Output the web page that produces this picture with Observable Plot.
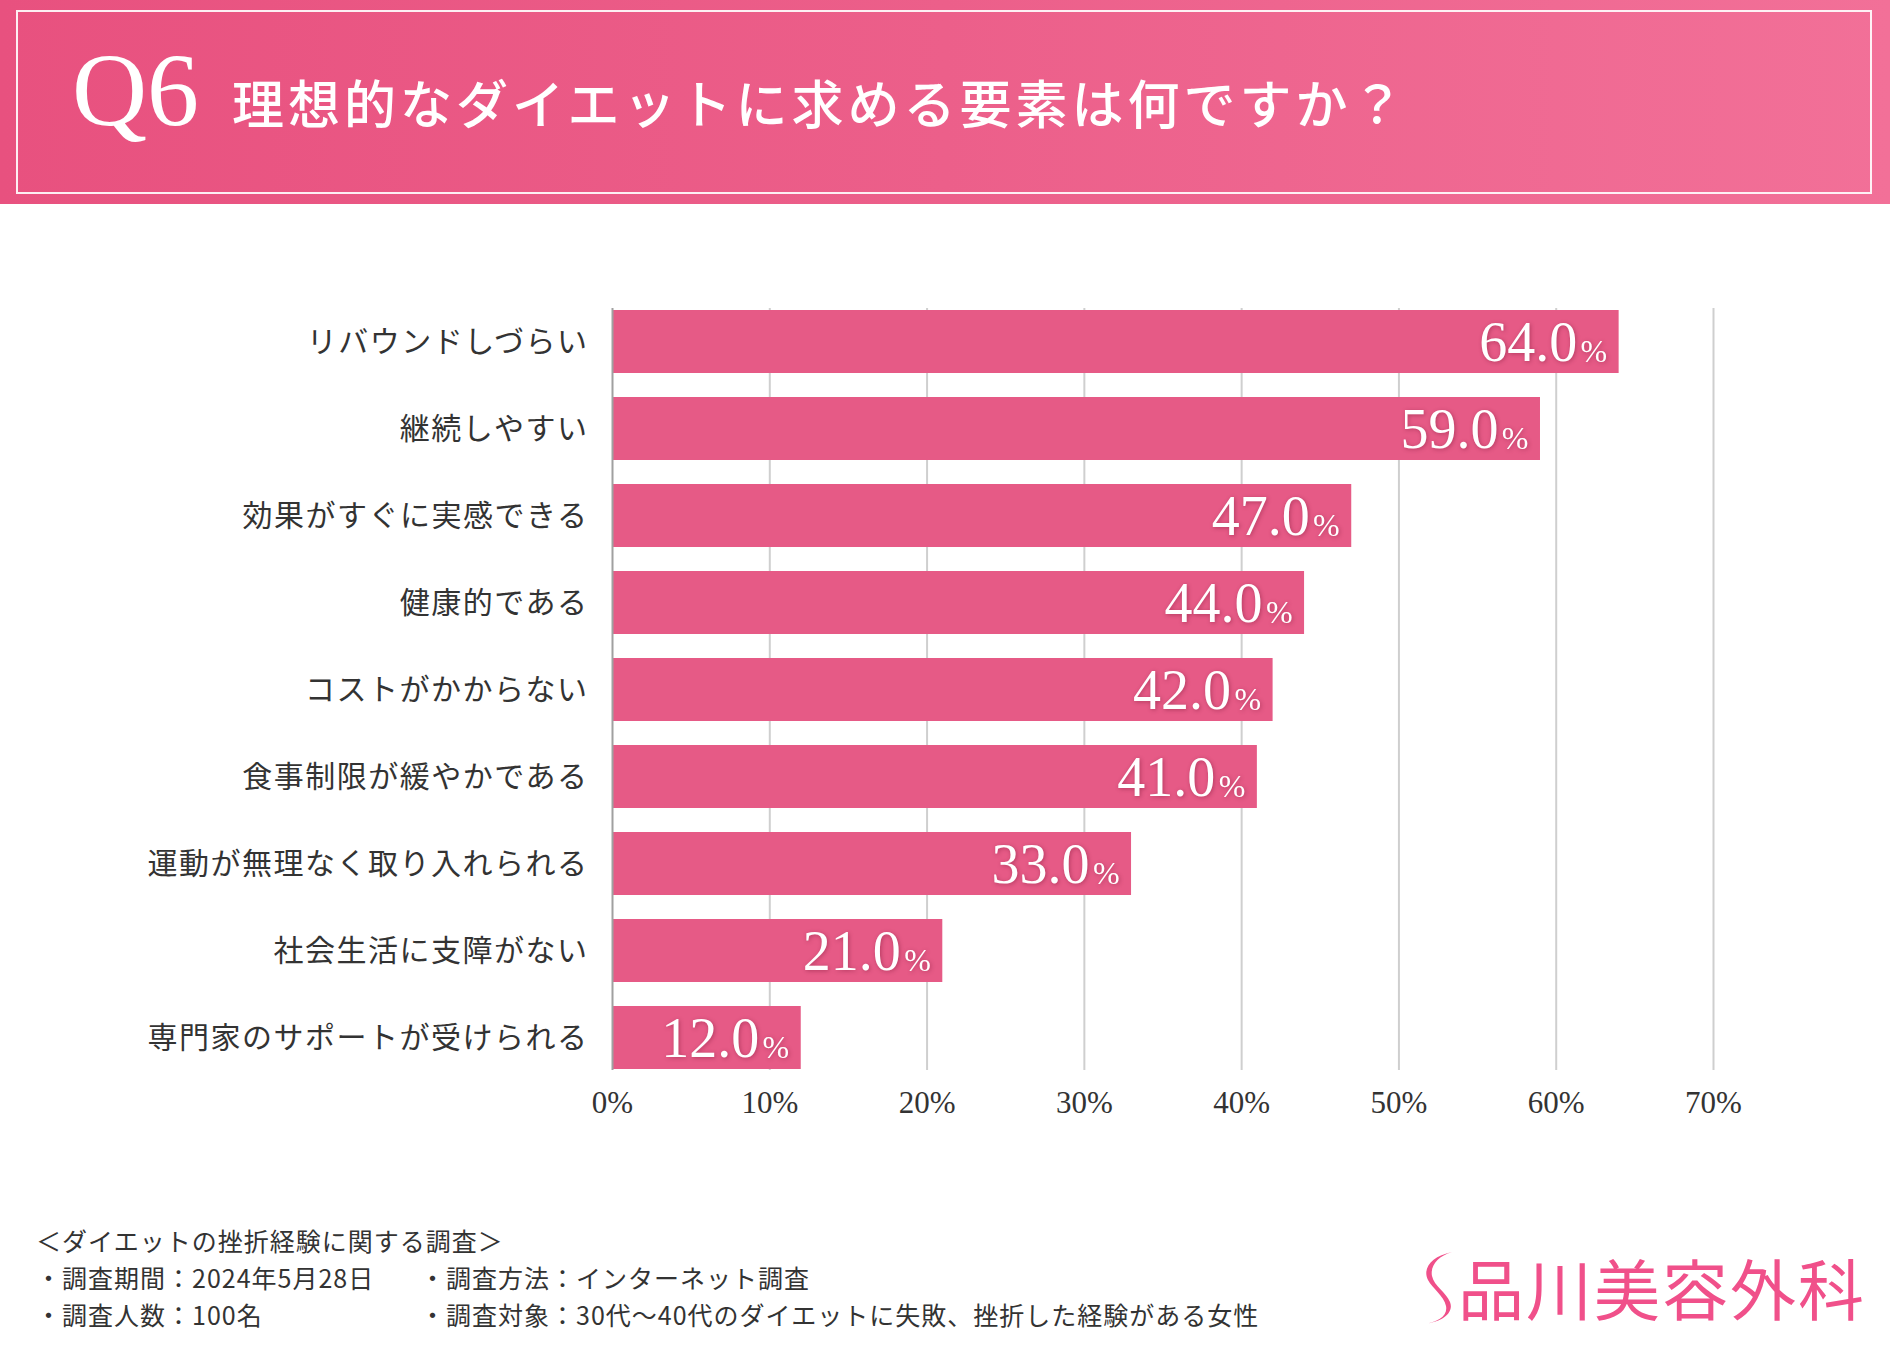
<!DOCTYPE html>
<html><head><meta charset="utf-8">
<script src="https://cdn.jsdelivr.net/npm/d3@7"></script>
<script src="https://cdn.jsdelivr.net/npm/@observablehq/plot@0.6"></script>
<style>
html,body{margin:0;padding:0;background:#fff;}
body{width:1890px;height:1350px;position:relative;overflow:hidden;font-family:"Noto Sans CJK JP",sans-serif;}
#header{position:absolute;left:0;top:0;width:1890px;height:204px;background:linear-gradient(90deg,#e8517f 0%,#ec5f8a 50%,#f27098 100%);}
#frame{position:absolute;left:16px;top:10px;width:1856px;height:184px;border:2px solid rgba(255,255,255,0.9);box-sizing:border-box;}
#q{position:absolute;left:72px;top:38px;font-family:"Liberation Serif",serif;font-size:104px;line-height:104px;color:#fff;}
#title{position:absolute;left:232px;top:70px;font-size:52px;line-height:64px;color:#fff;font-weight:500;letter-spacing:4px;white-space:nowrap;}
#chart{position:absolute;left:0;top:202px;}
#foot{position:absolute;left:36px;top:1222px;font-size:25px;line-height:37px;color:#333;letter-spacing:1px;}
#foot div{position:relative;height:37px;white-space:nowrap;}
#foot .c2{position:absolute;left:384px;top:0;white-space:nowrap;}
#logo{position:absolute;left:1418px;top:1245px;height:82px;display:flex;align-items:center;}
#logo span{font-size:66px;color:#f0508a;letter-spacing:2px;line-height:82px;white-space:nowrap;}
g[fill="white"] text{filter:drop-shadow(1px 1px 2px rgba(120,20,50,0.45));}
g[aria-label="y-axis tick label"] text{letter-spacing:1.5px;}
</style></head>
<body>
<div id="header"><div id="frame"></div><div id="q">Q6</div><div id="title">理想的なダイエットに求める要素は何ですか？</div></div>
<div id="chart"></div>
<div id="foot">
<div>＜ダイエットの挫折経験に関する調査＞</div>
<div>・調査期間：2024年5月28日<span class="c2">・調査方法：インターネット調査</span></div>
<div>・調査人数：100名<span class="c2">・調査対象：30代～40代のダイエットに失敗、挫折した経験がある女性</span></div>
</div>
<div id="logo"><svg width="40" height="80" viewBox="0 0 40 80"><path d="M34 6 C14 10 4 22 10 34 C14 42 26 50 28 60 C30 70 20 76 6 78 C26 76 36 66 32 56 C28 46 16 40 14 30 C12 20 20 10 34 6 Z" fill="#f0508a"/></svg><span>品川美容外科</span></div>
<script>
const categories = ["リバウンドしづらい","継続しやすい","効果がすぐに実感できる","健康的である","コストがかからない","食事制限が緩やかである","運動が無理なく取り入れられる","社会生活に支障がない","専門家のサポートが受けられる"];
const values = [64.0,59.0,47.0,44.0,42.0,41.0,33.0,21.0,12.0];
const ticks = [0,10,20,30,40,50,60,70];
const gridTicks = [10,20,30,40,50,60,70];

const data = categories.map((c,i)=>({cat:c, v:values[i]}));

const chart = Plot.plot({
  width: 1890,
  height: 950,
  marginLeft: 612,
  marginRight: 177,
  marginTop: 94,
  marginBottom: 70,
  style: {background:"transparent", overflow:"visible"},
  x: {domain:[0,70], ticks: ticks, tickFormat: d => d + "%"},
  y: {domain: categories, paddingInner: 0.28, paddingOuter: 0.14},
  marks: [
    Plot.ruleX(gridTicks, {stroke:"#cfcfcf", strokeWidth:2, insetTop:12, insetBottom:12}),
    Plot.barX(data, {x:"v", y:"cat", fill:"#e65a86"}),
    Plot.ruleX([0], {stroke:"#a0a0a0", strokeWidth:2, insetTop:12, insetBottom:12}),
    Plot.text(data, {x:"v", y:"cat", text: d => d.v.toFixed(1), textAnchor:"end", dx:-42, dy:1, fill:"white", fontSize:56, fontFamily:"Liberation Serif"}),
    Plot.text(data, {x:"v", y:"cat", text: d => "%", textAnchor:"end", dx:-12, dy:10, fill:"white", fontSize:32, fontFamily:"Liberation Serif"}),
    Plot.axisY({tickSize:0, tickPadding:24, fontSize:30, fill:"#333", fontFamily:"Noto Sans CJK JP", label:null}),
    Plot.axisX({ticks: ticks, tickFormat: d => d + "%", tickSize:0, tickPadding:8, fontSize:31, fill:"#333", fontFamily:"Liberation Serif", label:null})
  ]
});
document.getElementById("chart").appendChild(chart);
</script>
</body></html>
